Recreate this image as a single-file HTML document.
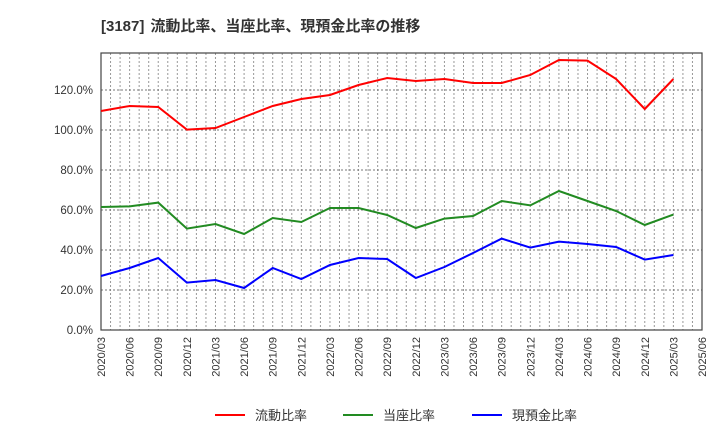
<!DOCTYPE html>
<html><head><meta charset="utf-8"><style>
body{margin:0;background:#fff;}
svg{display:block;font-family:"Liberation Sans","Noto Sans CJK JP",sans-serif;}
</style></head><body>
<svg id="chart" width="720" height="440">
<text x="101" y="31" font-size="15" font-weight="bold" fill="#333">[3187]<tspan dx="6">流動比率、当座比率、現預金比率の推移</tspan></text>
<g id="grid"></g><g id="axes"></g><g id="series"></g><g id="legend"></g>
</svg>
<script>
const categories=["2020/03","2020/06","2020/09","2020/12","2021/03","2021/06","2021/09","2021/12","2022/03","2022/06","2022/09","2022/12","2023/03","2023/06","2023/09","2023/12","2024/03","2024/06","2024/09","2024/12","2025/03","2025/06"];
const currentRatio=[109.5,112,111.5,100.2,101,106.5,112,115.5,117.5,122.5,126,124.5,125.5,123.5,123.5,127.5,135,134.7,125.5,110.5,125.5];
const quickRatio=[61.5,61.8,63.7,50.7,53,48,56,54,61,61,57.5,51,55.7,57,64.5,62.3,69.5,64.5,59.5,52.5,57.7];
const cashRatio=[27,31,36,23.7,25,21,31,25.5,32.5,36,35.5,26,31.5,38.5,45.7,41.2,44.2,43,41.5,35.2,37.5];
const yTicks=[0,20,40,60,80,100,120];
const seriesNames=["流動比率","当座比率","現預金比率"];
const seriesColors=["#ff0000","#228b22","#0000ff"];

const NS="http://www.w3.org/2000/svg";
const L=101,R=702,T=53,B=330,yMax=138.5;
const months=(categories.length-1)*3;
function x(i){return L+(R-L)*(i*3)/months;}
function xm(m){return L+(R-L)*m/months;}
function y(v){return B-(B-T)*v/yMax;}
function mk(tag,attrs,parent){const e=document.createElementNS(NS,tag);for(const k in attrs)e.setAttribute(k,attrs[k]);parent.appendChild(e);return e;}
const grid=document.getElementById('grid'),axes=document.getElementById('axes'),ser=document.getElementById('series'),leg=document.getElementById('legend');
for(let m=1;m<months;m++){
  const l=mk('line',{x1:xm(m),x2:xm(m),y1:T,y2:B,stroke:'#999','stroke-dasharray':'2,2','stroke-width':1},grid);
  
  
}
yTicks.forEach(v=>{
  if(v>0){const l=mk('line',{x1:L,x2:R,y1:y(v),y2:y(v),stroke:'#777','stroke-dasharray':'2,2','stroke-width':1},grid);
  
  }
  const t=mk('text',{x:L-8,y:y(v)+4,'font-size':11.5,fill:'#333','text-anchor':'end'},axes);
  t.textContent=v.toFixed(1)+'%';
  
  
});
const frame=mk('rect',{x:L,y:T,width:R-L,height:B-T,fill:'none',stroke:'#444','stroke-width':1.2},axes);


categories.forEach((c,i)=>{
  const t=mk('text',{x:0,y:0,'font-size':11,fill:'#333','text-anchor':'end',transform:`translate(${x(i)+4},${B+7}) rotate(-90)`},axes);
  t.textContent=c;
  
  
});
[currentRatio,quickRatio,cashRatio].forEach((d,s)=>{
  const p=mk('polyline',{points:d.map((v,i)=>x(i)+','+y(v)).join(' '),fill:'none',stroke:seriesColors[s],'stroke-width':2},ser);
  
  
});
const lx=[215,343,472];
seriesNames.forEach((n,s)=>{
  const g=mk('g',{},leg);
  
  
  mk('line',{x1:lx[s],x2:lx[s]+30,y1:415,y2:415,stroke:seriesColors[s],'stroke-width':2},g);
  const t=mk('text',{x:lx[s]+40,y:420,'font-size':13,fill:'#333'},g);
  t.textContent=n;
});
</script>
</body></html>
